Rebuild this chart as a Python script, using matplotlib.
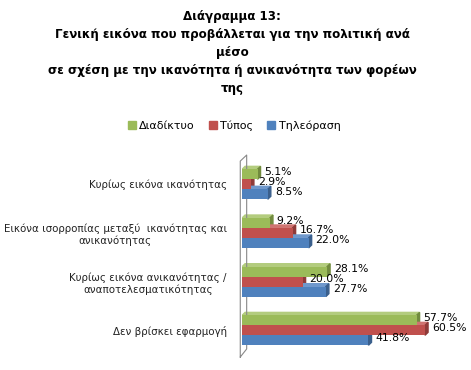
import matplotlib.pyplot as plt
from matplotlib.patches import Polygon
from matplotlib.lines import Line2D

plt.rcParams['font.family'] = ['DejaVu Sans']

# Data
categories = ['Κυρίως εικόνα ικανότητας',
              'Εικόνα ισορροπίας μεταξύ  ικανότητας και\nανικανότητας',
              'Κυρίως εικόνα ανικανότητας /\nαναποτελεσματικότητας',
              'Δεν βρίσκει εφαρμογή']
series = ['Διαδίκτυο', 'Τύπος', 'Τηλεόραση']
internet = [5.1, 9.2, 28.1, 57.7]
press = [2.9, 16.7, 20.0, 60.5]
tv = [8.5, 22.0, 27.7, 41.8]
colors = ['#9BBB59', '#C0504D', '#4F81BD']
tops = ['#B3CC7E', '#CF7471', '#6F98CC']
sides = ['#718B3E', '#8E3A38', '#3A5F8C']

title = ('Διάγραμμα 13:\nΓενική εικόνα που προβάλλεται για την πολιτική ανά\nμέσο\n'
         'σε σχέση με την ικανότητα ή ανικανότητα των φορέων\nτης')

fig = plt.figure(figsize=(4.71, 3.70), dpi=100)
fig.text(0.493, 0.973, title, ha='center', va='top', fontsize=8.6,
         fontweight='bold', linespacing=1.5)

ax = fig.add_axes([0.514, 0.035, 0.486, 0.546])
h = 0.205
dx, dy = 1.0, 0.06
n = len(categories)
for j, vals in enumerate([internet, press, tv]):
    for i, v in enumerate(vals):
        y = (n - 1 - i) + (1 - j) * h
        ax.barh(y, v, height=h, color=colors[j], edgecolor='none', zorder=3)
        # simple 3D faces
        ax.add_patch(Polygon([(0, y + h / 2), (v, y + h / 2),
                              (v + dx, y + h / 2 + dy), (dx, y + h / 2 + dy)],
                             closed=True, color=tops[j], zorder=2))
        ax.add_patch(Polygon([(v, y - h / 2), (v + dx, y - h / 2 + dy),
                              (v + dx, y + h / 2 + dy), (v, y + h / 2)],
                             closed=True, color=sides[j], zorder=2))
        ax.text(v + dx + 1.3, y + 0.05, f'{v:.1f}%', va='center', ha='left',
                fontsize=7.8, zorder=4)

ax.set_xlim(0, 75.7)
ax.set_ylim(-0.55, 3.6)
ax.set_yticks(range(n))
ax.set_yticklabels(categories[::-1], fontsize=7.4, multialignment='center',
                   color='#222222')
ax.tick_params(axis='y', length=0, pad=11)
ax.set_xticks([])
for s in ax.spines.values():
    s.set_visible(False)

# side wall
wall_x = [-0.008, -0.008, 0.02, 0.02, -0.008]
wall_y = [0.0, 0.97, 1.0, 0.04, 0.0]
ax.add_line(Line2D(wall_x, wall_y, transform=ax.transAxes, color='#888888',
                   lw=0.8, clip_on=False))

handles = [plt.Rectangle((0, 0), 1, 1, color=c) for c in colors]
fig.legend(handles, series, loc='center', bbox_to_anchor=(0.497, 0.66), ncol=3,
           frameon=False, fontsize=8, handlelength=0.7, handleheight=0.7,
           handletextpad=0.3, columnspacing=1.3)

fig.savefig('out.png', dpi=100)
